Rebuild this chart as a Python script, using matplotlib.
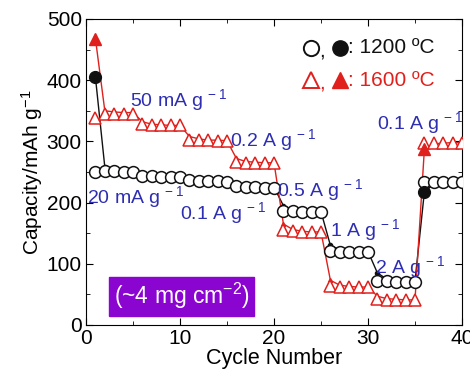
import matplotlib
matplotlib.use('Agg')
import matplotlib.pyplot as plt
import numpy as np

plt.rcParams['font.family'] = ['Liberation Sans', 'DejaVu Sans']
plt.rcParams['mathtext.fontset'] = 'custom'
plt.rcParams['mathtext.rm'] = 'Liberation Sans'
plt.rcParams['mathtext.default'] = 'rm'

cycles = np.arange(1, 41)

# 1200 C sample
dis_1200 = [250, 252, 251, 250, 250, 244, 243, 242, 242, 241,
            237, 236, 235, 235, 234, 227, 226, 225, 224, 224,
            187, 186, 185, 185, 185, 121, 120, 120, 120, 120,
            72, 72, 71, 71, 71, 233, 233, 233, 233, 233]
chg_1200 = [405, 258, 254, 252, 251, 248, 245, 243, 242, 242,
            240, 237, 236, 235, 235, 232, 228, 226, 225, 225,
            195, 188, 186, 185, 185, 130, 123, 121, 120, 120,
            85, 75, 73, 72, 72, 218, 230, 232, 233, 233]

# 1600 C sample
dis_1600 = [338, 345, 345, 345, 345, 328, 327, 326, 326, 326,
            303, 302, 302, 301, 301, 266, 265, 265, 265, 265,
            155, 153, 152, 152, 152, 63, 62, 62, 62, 62,
            42, 41, 41, 41, 41, 298, 298, 298, 298, 298]
chg_1600 = [468, 350, 348, 347, 347, 332, 328, 327, 326, 326,
            308, 304, 302, 302, 301, 272, 267, 266, 265, 265,
            165, 156, 153, 152, 152, 73, 65, 63, 62, 62,
            47, 43, 42, 41, 41, 288, 296, 297, 298, 298]

# rate labels: (text, x, y)
rate_labels = [
    ('20 mA g$^{\\,\u22121}$', 0.1, 209),
    ('50 mA g$^{\\,\u22121}$', 4.7, 368),
    ('0.1 A g$^{\\,\u22121}$', 10.0, 183),
    ('0.2 A g$^{\\,\u22121}$', 15.3, 302),
    ('0.5 A g$^{\\,\u22121}$', 20.3, 220),
    ('1 A g$^{\\,\u22121}$', 26.0, 155),
    ('2 A g$^{\\,\u22121}$', 30.7, 95),
    ('0.1 A g$^{\\,\u22121}$', 31.0, 330),
]

black = '#111111'
red = '#e0201c'
blue = '#2e2eb2'
purple = '#8a05cf'

fig = plt.figure(figsize=(4.70, 3.71), dpi=100)
ax = fig.add_axes([0.183, 0.124, 0.800, 0.825])

# charge curves (line + small filled markers)
ax.plot(cycles, chg_1200, '-', color=black, lw=1.0, marker='o', ms=3, zorder=2)
ax.plot(cycles, chg_1600, '-', color=red, lw=1.0, marker='^', ms=3, zorder=2)
# discharge (open markers)
ax.plot(cycles, dis_1200, 'o', mfc='white', mec=black, mew=1.1, ms=8.5, ls='none', zorder=3)
ax.plot(cycles, dis_1600, '^', mfc='white', mec=red, mew=1.1, ms=9, ls='none', zorder=3)
# highlighted filled points (first cycle and recovery)
ax.plot([1, 36], [chg_1200[0], chg_1200[35]], 'o', color=black, ms=8.5, ls='none', zorder=4)
ax.plot([1, 36], [chg_1600[0], chg_1600[35]], '^', color=red, ms=9, ls='none', zorder=4)

for txt, x, y in rate_labels:
    ax.text(x, y, txt, color=blue, fontsize=14, ha='left', va='center', zorder=5)

# legend built from markers and text
for yy, col, mk, label in [(0.905, black, 'o', ': 1200 \u00baC'),
                           (0.80, red, '^', ': 1600 \u00baC')]:
    ax.plot([0.598], [yy], mk, mfc='white', mec=col, mew=1.4, ms=11,
            transform=ax.transAxes, clip_on=False)
    ax.text(0.628, yy - 0.01, ',', color=col, fontsize=15, ha='center', va='center',
            transform=ax.transAxes)
    ax.plot([0.676], [yy], mk, color=col, ms=11, transform=ax.transAxes, clip_on=False)
    ax.text(0.698, yy, label, color=col, fontsize=15, ha='left', va='center',
            transform=ax.transAxes)

ax.text(10.2, 47, '(~4 mg cm$^{\u22122}$)', color='white', fontsize=16.5, ha='center', va='center',
        bbox=dict(boxstyle='square,pad=0.2', fc=purple, ec=purple))

ax.set_xlim(0, 40)
ax.set_ylim(0, 500)
ax.set_xticks([0, 10, 20, 30, 40])
ax.set_xticks([5, 15, 25, 35], minor=True)
ax.set_yticks([0, 100, 200, 300, 400, 500])
ax.set_yticks([50, 150, 250, 350, 450], minor=True)
ax.tick_params(which='both', direction='in', top=True, right=True, labelsize=15)
ax.tick_params(which='major', length=5, pad=3)
ax.tick_params(which='minor', length=3)
ax.set_xlabel('Cycle Number', fontsize=15.5, labelpad=0)
ax.set_ylabel('Capacity/mAh g$^{\u22121}$', fontsize=15, labelpad=1)

fig.savefig('out.png', dpi=100)
